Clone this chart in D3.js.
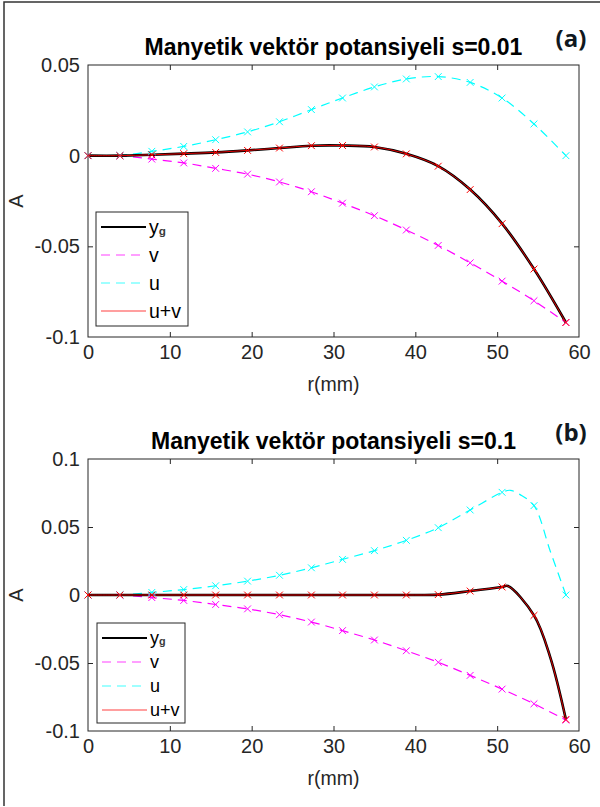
<!DOCTYPE html>
<html lang="tr">
<head>
  <meta charset="UTF-8" />
  <title>Manyetik vektör potansiyeli</title>
  <script src="https://d3js.org/d3.v7.min.js"></script>
  <style>
    body {
      margin: 0;
      background-color: #fff;
    }
    svg {
      display: block;
      font-family: "Liberation Sans", Arial, sans-serif;
    }
    .tick text {
      fill: #262626;
      font-size: 20px;
    }
  </style>
</head>
<body>

<svg id="chart" width="600" height="807"></svg>

<script>
  // r values where the markers sit (mm)
  const rMarks = [0, 3.9, 7.8, 11.7, 15.6, 19.5, 23.4, 27.3, 31.1, 35.0, 38.9, 42.8, 46.7, 50.6, 54.5, 58.4];

  // panel (a), s = 0.01
  const ygA = [0, 0, 0.0005, 0.0011, 0.0018, 0.0029, 0.0042, 0.0055, 0.0056, 0.0048, 0.0010, -0.0058, -0.0187, -0.0375, -0.0625, -0.0920];
  const uA  = [0, 0.0001, 0.0024, 0.0051, 0.0088, 0.0131, 0.0187, 0.0254, 0.0318, 0.0379, 0.0423, 0.0436, 0.0404, 0.0318, 0.0175, 0];
  const vA  = [0, -0.0001, -0.0019, -0.0040, -0.0070, -0.0102, -0.0145, -0.0199, -0.0262, -0.0331, -0.0410, -0.0495, -0.0591, -0.0692, -0.0800, -0.0920];

  // panel (b), s = 0.1
  const ygB = [0, 0, 0, 0, 0, 0, 0, 0, 0, 0, 0, 0.0003, 0.0029, 0.0059, -0.0150, -0.0915];
  const uB  = [0, 0.0001, 0.0019, 0.0040, 0.0068, 0.0102, 0.0145, 0.0200, 0.0262, 0.0326, 0.0402, 0.0495, 0.0625, 0.0755, 0.0657, 0];
  const vB  = [0, -0.0001, -0.0019, -0.0040, -0.0070, -0.0102, -0.0145, -0.0199, -0.0262, -0.0331, -0.0410, -0.0495, -0.0591, -0.0692, -0.0800, -0.0920];
  // extra curve points of panel (b) between markers, near the peak
  const rExtraYgB = [51.3, 56.5];
  const ygExtraB  = [0.0066, -0.0460];
  const rExtraUB  = [51.6, 52.8, 56.5];
  const uExtraB   = [0.0770, 0.0738, 0.0320];

  const xTicks = [0, 10, 20, 30, 40, 50, 60];
  const yTicksA = [-0.1, -0.05, 0, 0.05];
  const yTicksB = [-0.1, -0.05, 0, 0.05, 0.1];
  const legendNames = ["y", "v", "u", "u+v"];

  const svg = d3.select("#chart");

  // outer frame (top and left edges only visible)
  svg.append("path")
    .attr("d", "M4,806V2H600")
    .style("fill", "none")
    .style("stroke", "#333")
    .style("stroke-width", 1.5);

  const x = d3.scaleLinear().domain([0, 60]).range([88, 579]);

  function pts(rs, ys) {
    return rs.map((r, i) => [r, ys[i]]);
  }

  function merge(a, b) {
    return a.concat(b).sort((p, q) => p[0] - q[0]);
  }

  function drawPanel(cfg) {
    const g = svg.append("g");
    const y = d3.scaleLinear().domain(cfg.yDomain).range([cfg.bottom, cfg.top]);

    const fmt = d => d === 0 ? "0" : String(d);

    // axes with inward ticks on all four sides
    g.append("g")
      .attr("transform", `translate(0,${cfg.bottom})`)
      .call(d3.axisBottom(x).tickValues(xTicks).tickSize(-5).tickPadding(8).tickFormat(d3.format("d")))
      .call(a => a.select(".domain").remove());
    g.append("g")
      .attr("transform", `translate(0,${cfg.top})`)
      .call(d3.axisTop(x).tickValues(xTicks).tickSize(-5).tickFormat(""))
      .call(a => a.select(".domain").remove());
    g.append("g")
      .attr("transform", "translate(88,0)")
      .call(d3.axisLeft(y).tickValues(cfg.yTicks).tickSize(-5).tickPadding(8).tickFormat(fmt))
      .call(a => a.select(".domain").remove());
    g.append("g")
      .attr("transform", "translate(579,0)")
      .call(d3.axisRight(y).tickValues(cfg.yTicks).tickSize(-5).tickFormat(""))
      .call(a => a.select(".domain").remove());
    g.selectAll(".tick line").style("stroke", "#262626");
    g.selectAll(".tick text").attr("font-family", null);
    g.selectAll(".tick").filter(d => d === 0 || d === 60 || d === cfg.yDomain[0] || d === cfg.yDomain[1])
      .select("line").remove();

    g.append("rect")
      .attr("x", 88).attr("y", cfg.top)
      .attr("width", 579 - 88).attr("height", cfg.bottom - cfg.top)
      .style("fill", "none")
      .style("stroke", "#262626")
      .style("stroke-width", 1);

    const line = d3.line()
      .x(d => x(d[0]))
      .y(d => y(d[1]))
      .curve(d3.curveCatmullRom.alpha(0.5));

    const series = [
      { data: cfg.v, color: "#ff00ff", width: 1.2, dash: "9,6", marks: pts(rMarks, cfg.vM) },
      { data: cfg.u, color: "#00ffff", width: 1.2, dash: "9,6", marks: pts(rMarks, cfg.uM) },
      { data: cfg.yg, color: "#000", width: 2.6, dash: null, marks: null },
      { data: cfg.yg, color: "#ff0000", width: 0.9, dash: null, marks: pts(rMarks, cfg.ygM) }
    ];

    series.forEach(s => {
      g.append("path")
        .datum(s.data)
        .attr("d", line)
        .style("fill", "none")
        .style("stroke", s.color)
        .style("stroke-width", s.width)
        .style("stroke-dasharray", s.dash);
    });

    series.filter(s => s.marks).forEach(s => {
      g.append("g")
        .selectAll("path")
        .data(s.marks)
        .enter().append("path")
        .attr("d", d => {
          const cx = x(d[0]), cy = y(d[1]), h = 3.4;
          return `M${cx - h},${cy - h}L${cx + h},${cy + h}M${cx - h},${cy + h}L${cx + h},${cy - h}`;
        })
        .style("fill", "none")
        .style("stroke", s.color)
        .style("stroke-width", 1);
    });

    // titles and labels
    g.append("text")
      .attr("x", (88 + 579) / 2).attr("y", cfg.top - 10)
      .attr("text-anchor", "middle")
      .style("font-size", "23px")
      .style("font-weight", "bold")
      .style("fill", "#000")
      .text(cfg.title);
    g.append("text")
      .attr("x", 571).attr("y", cfg.top - 18)
      .attr("text-anchor", "middle")
      .style("font-family", "'Open Sans', sans-serif")
      .style("font-size", "24px")
      .style("font-weight", "bold")
      .style("fill", "#101820")
      .text(cfg.tag);
    g.append("text")
      .attr("x", (88 + 579) / 2).attr("y", cfg.bottom + 54)
      .attr("text-anchor", "middle")
      .style("font-size", "19.5px")
      .style("fill", "#262626")
      .text("r(mm)");
    g.append("text")
      .attr("transform", `translate(22.5,${(cfg.top + cfg.bottom) / 2}) rotate(-90)`)
      .attr("text-anchor", "middle")
      .style("font-size", "20px")
      .style("fill", "#262626")
      .text("A");

    // legend
    const L = cfg.legend;
    const lg = g.append("g");
    lg.append("rect")
      .attr("x", L.x).attr("y", L.y)
      .attr("width", L.w).attr("height", L.h)
      .style("fill", "#fff")
      .style("stroke", "#262626")
      .style("stroke-width", 1);
    const legendStyle = [
      { color: "#000", width: 2.2, dash: null },
      { color: "#ff40ff", width: 1.2, dash: "9,6" },
      { color: "#40ffff", width: 1.2, dash: "9,6" },
      { color: "#ff4040", width: 1.2, dash: null }
    ];
    legendNames.forEach((name, i) => {
      const yy = L.y0 + i * L.step;
      const st = legendStyle[i];
      lg.append("line")
        .attr("x1", L.x + 5).attr("x2", L.x + 50)
        .attr("y1", yy).attr("y2", yy)
        .style("stroke", st.color)
        .style("stroke-width", st.width)
        .style("stroke-dasharray", st.dash);
      const t = lg.append("text")
        .attr("x", L.x + 53).attr("y", yy)
        .attr("dy", "0.35em")
        .style("font-size", L.font + "px")
        .style("fill", "#000")
        .text(name);
      if (i === 0) {
        t.append("tspan")
          .attr("dy", "0.1em")
          .style("font-size", (L.font * 0.6) + "px")
          .style("font-weight", "bold")
          .style("fill", "#3a3a3a")
          .text("g");
      }
    });
  }

  drawPanel({
    top: 65, bottom: 337,
    yDomain: [-0.1, 0.05], yTicks: yTicksA,
    title: "Manyetik vektör potansiyeli s=0.01", tag: "(a)",
    yg: pts(rMarks, ygA), u: pts(rMarks, uA), v: pts(rMarks, vA),
    ygM: ygA, uM: uA, vM: vA,
    legend: { x: 96, y: 212, w: 92, h: 114, y0: 227, step: 28, font: 19.5 }
  });

  drawPanel({
    top: 459, bottom: 731,
    yDomain: [-0.1, 0.1], yTicks: yTicksB,
    title: "Manyetik vektör potansiyeli s=0.1", tag: "(b)",
    yg: merge(pts(rMarks, ygB), pts(rExtraYgB, ygExtraB)),
    u: merge(pts(rMarks, uB), pts(rExtraUB, uExtraB)),
    v: pts(rMarks, vB),
    ygM: ygB, uM: uB, vM: vB,
    legend: { x: 97, y: 623, w: 88, h: 100, y0: 638, step: 24, font: 18 }
  });
</script>

</body>
</html>
